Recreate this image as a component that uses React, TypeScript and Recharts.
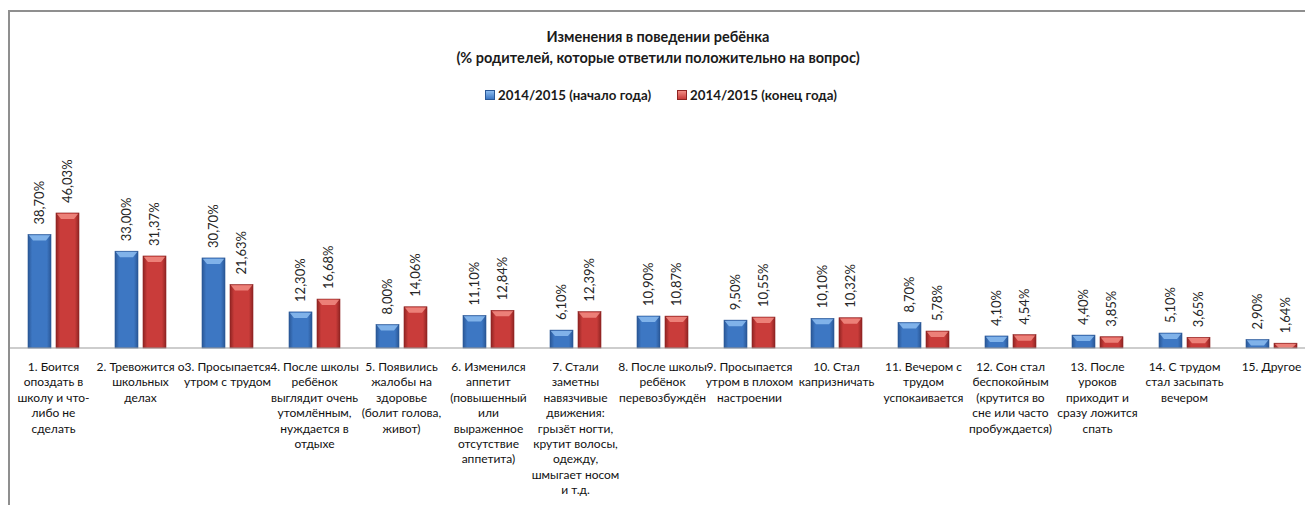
import React from "react"
import { BarChart, Bar, XAxis, YAxis, Legend, LabelList } from "recharts"

// categories (line breaks as in the original wrapping)
const categories = [
  "1. Боится\nопоздать в\nшколу и что-\nлибо не\nсделать",
  "2. Тревожится о\nшкольных\nделах",
  "3. Просыпается\nутром с трудом",
  "4. После школы\nребёнок\nвыглядит очень\nутомлённым,\nнуждается в\nотдыхе",
  "5. Появились\nжалобы на\nздоровье\n(болит голова,\nживот)",
  "6. Изменился\nаппетит\n(повышенный\nили\nвыраженное\nотсутствие\nаппетита)",
  "7. Стали\nзаметны\nнавязчивые\nдвижения:\nгрызёт ногти,\nкрутит волосы,\nодежду,\nшмыгает носом\nи т.д.",
  "8. После школы\nребёнок\nперевозбуждён",
  "9. Просыпается\nутром в плохом\nнастроении",
  "10. Стал\nкапризничать",
  "11. Вечером с\nтрудом\nуспокаивается",
  "12. Сон стал\nбеспокойным\n(крутится во\nсне или часто\nпробуждается)",
  "13. После\nуроков\nприходит и\nсразу ложится\nспать",
  "14. С трудом\nстал засыпать\nвечером",
  "15. Другое",
]

const startOfYear = [38.7, 33.0, 30.7, 12.3, 8.0, 11.1, 6.1, 10.9, 9.5, 10.1, 8.7, 4.1, 4.4, 5.1, 2.9]
const endOfYear = [46.03, 31.37, 21.63, 16.68, 14.06, 12.84, 12.39, 10.87, 10.55, 10.32, 5.78, 4.54, 3.85, 3.65, 1.64]

const seriesNames = ["2014/2015 (начало года)", "2014/2015 (конец года)"]

const data = categories.map((name, i) => ({
  name,
  start: startOfYear[i],
  end: endOfYear[i],
}))

const FONT = "Lato, 'Noto Sans', sans-serif"

const palette = {
  start: { body: "#3d77c3", edge: "#2a5796", top: "#8cbcf0" },
  end: { body: "#c93c3a", edge: "#8f2422", top: "#f28c84" },
}

const fmt = (v: number) => v.toFixed(2).replace(".", ",") + "%"

const makeShape = (key: "start" | "end") => (props: any) => {
  const { x, y, width, height } = props
  if (!height || height <= 0) return null
  const c = palette[key]
  const bevel = Math.min(6, height)
  const inset = Math.min(5, width / 3)
  return (
    <g>
      <rect x={x} y={y} width={width} height={height} fill={`url(#grad-${key})`} stroke={c.edge} strokeWidth={0.6} />
      <polygon
        points={`${x + 0.8},${y + 0.8} ${x + width - 0.8},${y + 0.8} ${x + width - inset},${y + bevel} ${x + inset},${y + bevel}`}
        fill={c.top}
        opacity={0.85}
      />
    </g>
  )
}

const renderValue = (props: any) => {
  const { x, y, width, value } = props
  const cx = Number(x) + Number(width) / 2
  const ty = Number(y) - 10
  return (
    <text
      x={cx}
      y={ty}
      transform={`rotate(-90 ${cx} ${ty})`}
      textAnchor="start"
      dominantBaseline="central"
      fontSize={13}
      fontFamily={FONT}
      fill="#262626"
    >
      {fmt(Number(value))}
    </text>
  )
}

const CategoryTick = (props: any) => {
  const { x, y, payload } = props
  const lines = String(payload.value).split("\n")
  return (
    <text x={x} y={y} textAnchor="middle" fontSize={12} fontFamily={FONT} fill="#111">
      {lines.map((l, i) => (
        <tspan key={i} x={x} dy={i === 0 ? 23 : 15.4}>
          {l}
        </tspan>
      ))}
    </text>
  )
}

const renderLegend = () => (
  <div
    style={{
      display: "flex",
      justifyContent: "center",
      gap: 26,
      fontFamily: FONT,
      fontWeight: 700,
      fontSize: 13.3,
      lineHeight: "18px",
      color: "#1a1a1a",
      paddingLeft: 6,
    }}
  >
    {(["start", "end"] as const).map((k, i) => (
      <span key={k} style={{ display: "inline-flex", alignItems: "center" }}>
        <span
          style={{
            width: 8,
            height: 8,
            marginRight: 3,
            background: `linear-gradient(${palette[k].top}, ${palette[k].body})`,
            border: `0.5px solid ${palette[k].edge}`,
          }}
        />
        {seriesNames[i]}
      </span>
    ))}
  </div>
)

export default function App() {
  return (
    <div
      style={{
        position: "fixed",
        left: 8,
        top: 10,
        width: 1297,
        height: 495,
        boxSizing: "border-box",
        borderTop: "2px solid #8f8f8f",
        borderLeft: "2px solid #8f8f8f",
        overflow: "hidden",
        background: "#fff",
      }}
    >
      <div
        style={{
          position: "absolute",
          top: 14,
          left: 0,
          width: 1296,
          textAlign: "center",
          fontFamily: FONT,
          fontWeight: 700,
          fontSize: 14.5,
          lineHeight: "21px",
          color: "#1a1a1a",
          zIndex: 2,
        }}
      >
        Изменения в поведении ребёнка
        <br />
        (% родителей, которые ответили положительно на вопрос)
      </div>
      <BarChart
        width={1305}
        height={493}
        data={data}
        margin={{ top: 160, right: 0, left: 0, bottom: 0 }}
        barGap={5}
        barSize={23}
      >
        <defs>
          {(["start", "end"] as const).map((k) => (
            <linearGradient key={k} id={`grad-${k}`} x1="0" y1="0" x2="1" y2="0">
              <stop offset="0%" stopColor={palette[k].edge} />
              <stop offset="18%" stopColor={palette[k].body} />
              <stop offset="82%" stopColor={palette[k].body} />
              <stop offset="100%" stopColor={palette[k].edge} />
            </linearGradient>
          ))}
        </defs>
        <XAxis
          dataKey="name"
          interval={0}
          height={157}
          tickLine={false}
          tickSize={0}
          tickMargin={0}
          axisLine={{ stroke: "#9c9c9c", strokeWidth: 1.2 }}
          tick={<CategoryTick />}
        />
        <YAxis hide domain={[0, 60]} />
        <Legend
          layout="horizontal"
          verticalAlign="middle"
          align="center"
          content={renderLegend}
          wrapperStyle={{ top: 74, left: 0, width: 1296, height: 18 }}
        />
        <Bar dataKey="start" name={seriesNames[0]} shape={makeShape("start")} isAnimationActive={false}>
          <LabelList dataKey="start" content={renderValue} />
        </Bar>
        <Bar dataKey="end" name={seriesNames[1]} shape={makeShape("end")} isAnimationActive={false}>
          <LabelList dataKey="end" content={renderValue} />
        </Bar>
      </BarChart>
    </div>
  )
}
